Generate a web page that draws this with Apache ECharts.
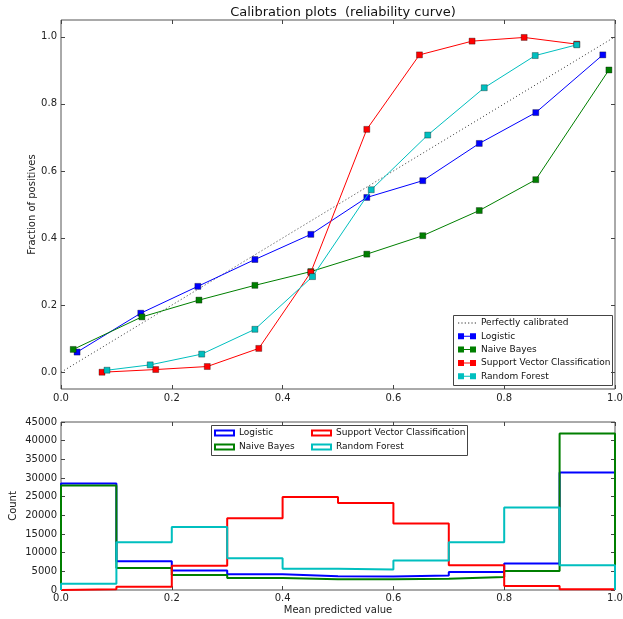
<!DOCTYPE html>
<html><head><meta charset="utf-8">
<script src="https://cdn.jsdelivr.net/npm/echarts@6/dist/echarts.min.js"></script>
<style>html,body{margin:0;padding:0;background:#fff}#c{width:623px;height:619px}</style>
</head><body><div id="c"></div>
<script>
// ---- calibration curve data (mean predicted value, fraction of positives)
const perfectX = [0, 1];
const perfectY = [0, 1];
const lrX  = [0.029, 0.144, 0.247, 0.350, 0.451, 0.552, 0.653, 0.755, 0.857, 0.978];
const lrY  = [0.060, 0.176, 0.256, 0.336, 0.411, 0.521, 0.571, 0.682, 0.774, 0.946];
const nbX  = [0.022, 0.146, 0.249, 0.350, 0.451, 0.552, 0.653, 0.755, 0.857, 0.989];
const nbY  = [0.068, 0.165, 0.215, 0.259, 0.300, 0.352, 0.407, 0.482, 0.574, 0.901];
const svcX = [0.074, 0.171, 0.264, 0.357, 0.451, 0.552, 0.647, 0.742, 0.836, 0.931];
const svcY = [0.000, 0.008, 0.017, 0.071, 0.298, 0.724, 0.946, 0.987, 0.998, 0.978];
const rfX  = [0.083, 0.161, 0.254, 0.350, 0.454, 0.560, 0.662, 0.764, 0.856, 0.931];
const rfY  = [0.006, 0.022, 0.054, 0.128, 0.285, 0.544, 0.707, 0.848, 0.944, 0.976];

// ---- histogram data (bin edges, counts)
const binEdges = [0, 0.1, 0.2, 0.3, 0.4, 0.5, 0.6, 0.7, 0.8, 0.9, 1.0];
const lrCounts  = [28500, 7700, 5200, 4200, 3700, 3600, 3900, 4800, 7100, 31500];
const nbCounts  = [28000, 5900, 4000, 3200, 2900, 2900, 3000, 3500, 5100, 41900];
const svcCounts = [200, 900, 6500, 19200, 24900, 23300, 17800, 6600, 1100, 200];
const rfCounts  = [1700, 12800, 16900, 8500, 5700, 5500, 7900, 12800, 22100, 6600];

const names = ['Logistic', 'Naive Bayes', 'Support Vector Classification', 'Random Forest'];
const colors = ['#0000ff', '#007f00', '#ff0000', '#00bfbf'];
const topTicks = [0, 0.2, 0.4, 0.6, 0.8, 1.0];

const FONT = 'DejaVu Sans';
function zip(xs, ys) { return xs.map((x, i) => [x, ys[i]]); }
function steps(counts) {
  const d = [[binEdges[0], 0]];
  counts.forEach((c, i) => d.push([binEdges[i], c]));
  d.push([binEdges[binEdges.length - 1], counts[counts.length - 1]]);
  d.push([binEdges[binEdges.length - 1], 0]);
  return d;
}
const curveX = [lrX, nbX, svcX, rfX];
const curveY = [lrY, nbY, svcY, rfY];
const counts = [lrCounts, nbCounts, svcCounts, rfCounts];

const tickStyle = {show: true, inside: true, length: 4, lineStyle: {color: '#444'}};
const noLine = {show: false, onZero: false};
const lab = {color: '#222', fontFamily: FONT, fontSize: 10};

const series = [{
  name: 'Perfectly calibrated', type: 'line', xAxisIndex: 0, yAxisIndex: 0,
  data: zip(perfectX, perfectY), symbol: 'none',
  lineStyle: {color: '#333', width: 1, type: [1, 2.5]}, itemStyle: {color: '#333'}, z: 2
}];
names.forEach((n, i) => series.push({
  name: n, type: 'line', xAxisIndex: 0, yAxisIndex: 0,
  data: zip(curveX[i], curveY[i]), symbol: 'rect', symbolSize: 6,
  lineStyle: {color: colors[i], width: 1},
  itemStyle: {color: colors[i], borderColor: 'rgba(0,0,0,0.55)', borderWidth: 0.6},
  z: 3 + i
}));
names.forEach((n, i) => series.push({
  name: n, type: 'line', xAxisIndex: 2, yAxisIndex: 2,
  data: steps(counts[i]), step: 'end', symbol: 'none',
  lineStyle: {color: colors[i], width: 2}, itemStyle: {color: colors[i]}, z: 3 + i
}));

const sqIcon = 'path://M0,0h6v6h-6z M6,2.5h6v1h-6z M12,0h6v6h-6z';
let dots = '';
for (let k = 0; k < 6; k++) dots += 'M' + (k * 3.3) + ',0h1.2v1.2h-1.2z ';
const dotIcon = 'path://' + dots;

const gridBase = {left: 61, width: 554, show: true, borderColor: '#555', borderWidth: 1,
  containLabel: false, outerBoundsMode: 'none'};
const nameStyle = {fontFamily: FONT, fontSize: 10, color: '#222'};

const chart = echarts.init(document.getElementById('c'));
chart.setOption({
  animation: false,
  backgroundColor: '#fff',
  textStyle: {fontFamily: FONT},
  title: {text: 'Calibration plots  (reliability curve)', left: 338, textAlign: 'center', top: 1,
    textStyle: {fontFamily: FONT, fontSize: 13, fontWeight: 'normal', color: '#111'}},
  grid: [
    Object.assign({top: 20, height: 369}, gridBase),
    Object.assign({top: 422, height: 168}, gridBase)
  ],
  xAxis: [
    {gridIndex: 0, type: 'value', min: 0, max: 1, interval: 0.2, position: 'bottom',
      axisLine: noLine, axisTick: tickStyle, splitLine: {show: false},
      axisLabel: Object.assign({margin: 4, formatter: v => v.toFixed(1)}, lab)},
    {gridIndex: 0, type: 'value', min: 0, max: 1, interval: 0.2, position: 'top',
      axisLine: noLine, axisTick: tickStyle, splitLine: {show: false}, axisLabel: {show: false}},
    {gridIndex: 1, type: 'value', min: 0, max: 1, interval: 0.2, position: 'bottom',
      axisLine: noLine, axisTick: tickStyle, splitLine: {show: false},
      axisLabel: Object.assign({margin: 3, formatter: v => v.toFixed(1)}, lab),
      name: 'Mean predicted value', nameLocation: 'middle', nameGap: 15, nameMoveOverlap: false,
      nameTextStyle: nameStyle},
    {gridIndex: 1, type: 'value', min: 0, max: 1, interval: 0.2, position: 'top',
      axisLine: noLine, axisTick: tickStyle, splitLine: {show: false}, axisLabel: {show: false}}
  ],
  yAxis: [
    {gridIndex: 0, type: 'value', min: -0.05, max: 1.05, position: 'left',
      axisLine: noLine, splitLine: {show: false},
      axisTick: Object.assign({customValues: topTicks}, tickStyle),
      axisLabel: Object.assign({margin: 4, customValues: topTicks, formatter: v => v.toFixed(1)}, lab),
      name: 'Fraction of positives', nameLocation: 'middle', nameGap: 24, nameMoveOverlap: false,
      nameTextStyle: nameStyle},
    {gridIndex: 0, type: 'value', min: -0.05, max: 1.05, position: 'right',
      axisLine: noLine, splitLine: {show: false},
      axisTick: Object.assign({customValues: topTicks}, tickStyle), axisLabel: {show: false}},
    {gridIndex: 1, type: 'value', min: 0, max: 45000, interval: 5000, position: 'left',
      axisLine: noLine, splitLine: {show: false}, axisTick: tickStyle,
      axisLabel: Object.assign({margin: 4, formatter: v => String(v)}, lab),
      name: 'Count', nameLocation: 'middle', nameGap: 43, nameMoveOverlap: false,
      nameTextStyle: nameStyle},
    {gridIndex: 1, type: 'value', min: 0, max: 45000, interval: 5000, position: 'right',
      axisLine: noLine, splitLine: {show: false}, axisTick: tickStyle, axisLabel: {show: false}}
  ],
  legend: [
    {orient: 'vertical', left: 458, top: 318, padding: 0, itemWidth: 18, itemHeight: 6, itemGap: 3.3,
      textStyle: {fontFamily: FONT, fontSize: 9, color: '#111', lineHeight: 10},
      selectedMode: false,
      data: [{name: 'Perfectly calibrated', icon: dotIcon, itemStyle: {color: '#333'}}]
        .concat(names.map((n, i) => ({name: n, icon: sqIcon, itemStyle: {color: colors[i], borderWidth: 0}})))},
    {orient: 'vertical', left: 214, top: 428, padding: 0, itemWidth: 19, itemHeight: 5, itemGap: 4,
      textStyle: {fontFamily: FONT, fontSize: 9, color: '#111', lineHeight: 10}, selectedMode: false,
      data: [0, 1].map(i => ({name: names[i], icon: 'rect',
        itemStyle: {color: '#fff', borderColor: colors[i], borderWidth: 2}}))},
    {orient: 'vertical', left: 311, top: 428, padding: 0, itemWidth: 19, itemHeight: 5, itemGap: 4,
      textStyle: {fontFamily: FONT, fontSize: 9, color: '#111', lineHeight: 10}, selectedMode: false,
      data: [2, 3].map(i => ({name: names[i], icon: 'rect',
        itemStyle: {color: '#fff', borderColor: colors[i], borderWidth: 2}}))}
  ],
  graphic: [
    {type: 'rect', shape: {x: 453.5, y: 315.5, width: 159, height: 70}, z: 100, silent: true,
      style: {fill: 'none', stroke: '#444', lineWidth: 1}},
    {type: 'rect', shape: {x: 211.5, y: 425.5, width: 256, height: 30}, z: 100, silent: true,
      style: {fill: 'none', stroke: '#444', lineWidth: 1}}
  ],
  series: series
});
</script></body></html>
